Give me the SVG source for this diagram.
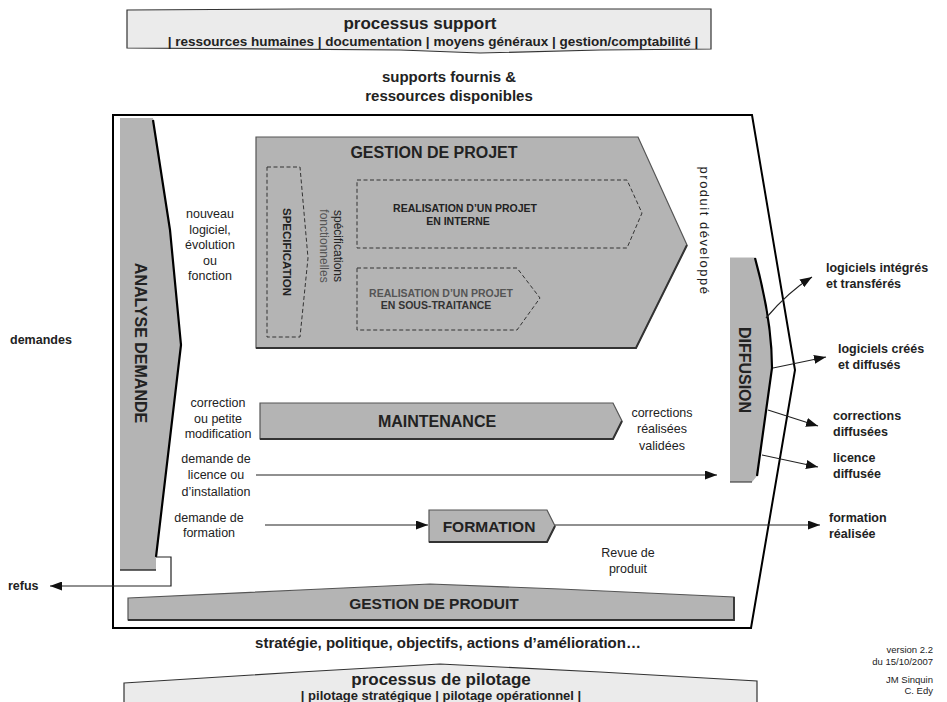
<svg xmlns="http://www.w3.org/2000/svg" width="947" height="702" viewBox="0 0 947 702">
<defs>
<style>
.t{font-family:"Liberation Sans",Arial,sans-serif;fill:#222;font-size:12.5px}
.b{font-weight:bold}
.m{text-anchor:middle}
.e{text-anchor:end}
.box{fill:#ebebeb;stroke:#333;stroke-width:1.2}
.shape{fill:#b4b4b4;stroke:#555;stroke-width:1.2}
.dash{fill:none;stroke:#333;stroke-width:1;stroke-dasharray:4 2.5}
.conn{fill:none;stroke:#222;stroke-width:1.2}
.frame{fill:none;stroke:#000;stroke-width:2}
.edge{fill:none;stroke:#000;stroke-width:2.2}
</style>
<marker id="ah" viewBox="0 0 12 9" refX="12" refY="4.5" markerWidth="12" markerHeight="9" markerUnits="userSpaceOnUse" orient="auto">
<path d="M0,0 L12,4.5 L0,9 Z" fill="#111"/>
</marker>
</defs>
<rect width="947" height="702" fill="#fff"/>

<g id="processus-support">
<path class="box" d="M127,10 L300,9 L711,9 L711,49 L600,50 L480,53 L400,50 L127,48 Z"/>
<text class="t b m" x="420" y="29" style="font-size:17px">processus support</text>
<text class="t b m" x="433" y="46" style="font-size:13.5px">| ressources humaines | documentation | moyens généraux | gestion/comptabilité |</text>
</g>

<text class="t b m" x="449" y="82" style="font-size:15px">supports fournis &amp;</text>
<text class="t b m" x="449" y="101" style="font-size:15px">ressources disponibles</text>

<g id="frame">
<path class="frame" d="M113,115 L752,115 L795,370 L751,628 L113,628 Z"/>
</g>

<g id="analyse-demande">
<path class="shape" d="M120,118 L153,118 L170,230 L181,345 L156,557 L156,570 L120,570 Z" style="stroke:none"/>
<path class="edge" d="M153,120 L170,230 L181,345 L156,557"/>
<path d="M120,570 L156,570" stroke="#333" stroke-width="1.5"/>
<text class="t b m" transform="translate(141,343) rotate(90)" y="5.7" style="font-size:16px">ANALYSE DEMANDE</text>
</g>

<text class="t b" x="10" y="344" style="font-size:12.5px">demandes</text>
<text class="t b" x="8" y="590" style="font-size:12.5px">refus</text>

<g id="gestion-projet">
<path class="shape" d="M256,137 L638,137 L687,245 L636,348 L256,348 Z"/>
<path d="M256,348 L636,348 L687,245" fill="none" stroke="#333" stroke-width="2"/>
<text class="t b m" x="434" y="158" style="font-size:16px">GESTION DE PROJET</text>
</g>

<g id="specification">
<path class="dash" d="M267,167 L300,167 L308,258 L300,337 L267,337 Z"/>
<text class="t b m" transform="translate(287,252) rotate(90)" y="4" style="font-size:11.5px">SPECIFICATION</text>
</g>

<g id="specifications-label">
<text class="t m" transform="translate(337,246) rotate(90)" y="3" style="font-size:12px">spécifications</text>
<text class="t m" transform="translate(323,246) rotate(90)" y="3" style="font-size:12px;fill:#555">fonctionnelles</text>
</g>

<g id="realisation-interne">
<path class="dash" d="M357,180 L627,180 L642,213 L627,248 L357,248 Z"/>
<text class="t b m" x="465" y="212" style="font-size:10.5px">REALISATION D’UN PROJET</text>
<text class="t b m" x="458" y="225" style="font-size:10.5px">EN INTERNE</text>
</g>

<g id="realisation-sous-traitance">
<path class="dash" d="M357,268 L517,268 L540,298 L517,330 L357,330 Z"/>
<text class="t b m" x="441" y="297" style="font-size:10.5px;fill:#555">REALISATION D’UN PROJET</text>
<text class="t b m" x="436" y="309" style="font-size:10.5px;fill:#333">EN SOUS-TRAITANCE</text>
</g>

<text class="t m" transform="translate(703,231) rotate(90)" y="3.5" style="font-size:13px;letter-spacing:1.5px">produit développé</text>

<g class="t m">
<text x="210" y="218">nouveau</text>
<text x="210" y="234">logiciel,</text>
<text x="210" y="249">évolution</text>
<text x="210" y="265">ou</text>
<text x="210" y="280">fonction</text>
</g>

<g id="maintenance">
<path class="shape" d="M260,403 L613,403 L622,421 L613,439 L260,439 Z"/>
<path d="M260,439 L613,439 L622,421" fill="none" stroke="#333" stroke-width="2"/>
<text class="t b m" x="437" y="427" style="font-size:16px">MAINTENANCE</text>
</g>

<g class="t m">
<text x="218" y="407">correction</text>
<text x="218" y="423">ou petite</text>
<text x="218" y="438">modification</text>
</g>

<g class="t m">
<text x="662" y="417">corrections</text>
<text x="662" y="433">réalisées</text>
<text x="662" y="450">validées</text>
</g>

<g class="t m">
<text x="216" y="463">demande de</text>
<text x="216" y="479">licence ou</text>
<text x="216" y="496">d’installation</text>
</g>

<g class="t m">
<text x="209" y="522">demande de</text>
<text x="209" y="537">formation</text>
</g>

<g id="formation">
<path class="shape" d="M429,510 L547,510 L555,526 L547,542 L429,542 Z"/>
<path d="M429,542 L547,542 L555,526" fill="none" stroke="#333" stroke-width="2"/>
<text class="t b m" x="489" y="532" style="font-size:15.5px">FORMATION</text>
</g>

<g id="diffusion">
<path class="shape" d="M730,257 L755,257 Q772,320 772,368 L757,476 L752,482 L730,482 Z" style="stroke:none"/>
<path class="edge" d="M755,258 Q772,320 772,368 L757,476"/>
<path d="M730,482 L752,482" stroke="#444" stroke-width="1.2"/>
<path d="M730,257 L755,257" stroke="#fff" stroke-width="1"/>
<text class="t b m" transform="translate(745,370) rotate(90)" y="5.7" style="font-size:16px">DIFFUSION</text>
</g>

<g class="t b">
<text x="826" y="272">logiciels intégrés</text>
<text x="826" y="288">et transférés</text>
<text x="838" y="353">logiciels créés</text>
<text x="838" y="369">et diffusés</text>
<text x="833" y="420">corrections</text>
<text x="833" y="436">diffusées</text>
<text x="833" y="462">licence</text>
<text x="833" y="478">diffusée</text>
<text x="829" y="522">formation</text>
<text x="829" y="538">réalisée</text>
</g>

<g class="t m">
<text x="628" y="557">Revue de</text>
<text x="628" y="573">produit</text>
</g>

<g id="gestion-produit">
<path class="shape" d="M128,598 L300,590 L430,584 L560,589 L734,597 L734,620 L128,620 Z"/>
<path d="M128,620 L734,620 L734,597" fill="none" stroke="#333" stroke-width="1.8"/>
<text class="t b m" x="434" y="609" style="font-size:15.5px">GESTION DE PRODUIT</text>
</g>

<text class="t b m" x="448" y="648" style="font-size:15px">stratégie, politique, objectifs, actions d’amélioration…</text>

<g id="processus-pilotage">
<path class="box" d="M124,683 L300,672 L440,664 L600,672 L757,681 L757,703 L124,703 Z"/>
<text class="t b m" x="441" y="685" style="font-size:17px">processus de pilotage</text>
<text class="t b m" x="441" y="700" style="font-size:13px">| pilotage stratégique | pilotage opérationnel |</text>
</g>

<g class="t e" style="font-size:9.5px">
<text x="933" y="653">version 2.2</text>
<text x="933" y="665">du 15/10/2007</text>
<text x="933" y="683">JM Sinquin</text>
<text x="933" y="694">C. Edy</text>
</g>

<g id="connectors">
<path class="conn" d="M156,557 H171 V586 H50" marker-end="url(#ah)"/>
<path class="conn" d="M256,475 H717" marker-end="url(#ah)"/>
<path class="conn" d="M265,525 H428" marker-end="url(#ah)"/>
<path class="conn" d="M555,525 H820" marker-end="url(#ah)"/>
<path class="conn" d="M766,318 Q788,292 812,277" marker-end="url(#ah)"/>
<path class="conn" d="M773,368 L826,357" marker-end="url(#ah)"/>
<path class="conn" d="M768,410 L818,426" marker-end="url(#ah)"/>
<path class="conn" d="M762,455 L818,467" marker-end="url(#ah)"/>
</g>
</svg>
